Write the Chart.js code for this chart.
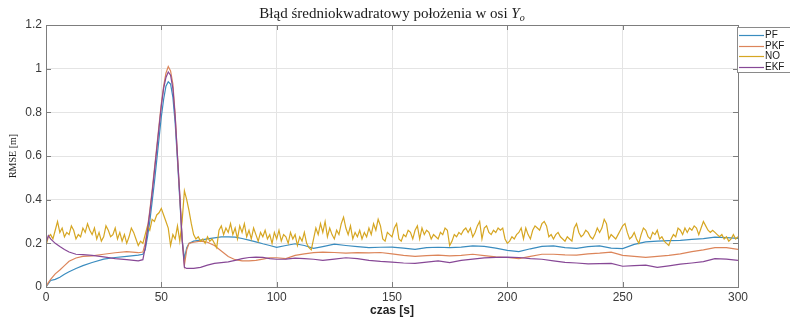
<!DOCTYPE html>
<html>
<head>
<meta charset="utf-8">
<script src="https://cdn.jsdelivr.net/npm/chart.js@4.4.1/dist/chart.umd.min.js"></script>
<style>
html,body{margin:0;padding:0;background:#fff;overflow:hidden}
#wrap{width:790px;height:321px}
</style>
</head>
<body>
<div id="wrap"><canvas id="rmseChart" width="790" height="321"></canvas></div>
<script>
// title pieces (Y is italic, o is a subscript)
const titleText = "Błąd średniokwadratowy położenia w osi ";
const titleVar = "Y";
const titleSub = "o";
const xTitle = "czas [s]";
const yTitle = "RMSE [m]";

const seriesNames = ["PF", "PKF", "NO", "EKF"];
const seriesColors = ["#3a8cbf", "#dc855a", "#d6a622", "#874896"];

// time samples for the smooth filter curves
const tSmooth = [0,1,2,4,6,8,10,13,16,20,25,30,35,40,42,43,44,45,46,47,48,49,50,51,52,53,54,55,56,57,58,59,60,61,62,64,67,70,73,76,79,82,85,88,91,94,97,100,104,108,112,116,120,125,130,135,140,145,150,155,160,165,170,175,180,185,190,195,200,205,210,215,220,225,230,235,240,245,250,255,260,265,270,275,280,285,290,295,300];

const pfValues = [0.0,0.015,0.03,0.035,0.045,0.058,0.07,0.085,0.098,0.112,0.128,0.135,0.14,0.146,0.15,0.17,0.23,0.30,0.39,0.48,0.58,0.68,0.78,0.86,0.92,0.94,0.93,0.87,0.75,0.58,0.40,0.22,0.13,0.18,0.20,0.21,0.215,0.22,0.225,0.23,0.23,0.228,0.222,0.215,0.207,0.198,0.19,0.182,0.19,0.198,0.19,0.177,0.185,0.196,0.19,0.185,0.18,0.182,0.183,0.178,0.172,0.18,0.182,0.18,0.183,0.188,0.186,0.178,0.168,0.162,0.175,0.186,0.188,0.18,0.177,0.185,0.188,0.178,0.176,0.195,0.207,0.21,0.212,0.214,0.218,0.222,0.228,0.226,0.223];

const pkfValues = [0.0,0.02,0.035,0.06,0.078,0.098,0.118,0.133,0.14,0.143,0.15,0.157,0.162,0.157,0.16,0.2,0.27,0.35,0.44,0.54,0.64,0.74,0.84,0.92,0.98,1.01,0.99,0.93,0.79,0.60,0.42,0.22,0.10,0.17,0.20,0.205,0.21,0.205,0.19,0.165,0.14,0.125,0.12,0.12,0.122,0.128,0.134,0.134,0.13,0.145,0.152,0.157,0.16,0.158,0.155,0.157,0.156,0.158,0.152,0.145,0.14,0.144,0.146,0.143,0.145,0.15,0.144,0.138,0.135,0.13,0.14,0.15,0.15,0.147,0.146,0.152,0.155,0.16,0.145,0.14,0.136,0.14,0.145,0.152,0.162,0.17,0.18,0.18,0.172];

const ekfValues = [0.2,0.235,0.22,0.2,0.185,0.172,0.16,0.15,0.148,0.145,0.138,0.13,0.125,0.12,0.125,0.18,0.26,0.34,0.43,0.53,0.63,0.73,0.83,0.91,0.96,0.985,0.97,0.91,0.78,0.60,0.42,0.22,0.09,0.085,0.085,0.085,0.09,0.1,0.108,0.112,0.115,0.122,0.13,0.135,0.137,0.136,0.13,0.127,0.128,0.132,0.13,0.127,0.122,0.128,0.134,0.13,0.122,0.117,0.114,0.11,0.108,0.114,0.12,0.112,0.122,0.128,0.133,0.136,0.137,0.135,0.13,0.127,0.12,0.113,0.11,0.106,0.107,0.108,0.095,0.098,0.1,0.09,0.097,0.105,0.11,0.116,0.13,0.128,0.122];

// NO (no filter) sampled every 1 s, t = 0..300
const noValues = [
0.19,0.23,0.24,0.22,0.26,0.30,0.25,0.27,0.23,0.25,
0.24,0.28,0.26,0.22,0.24,0.23,0.27,0.25,0.29,0.26,
0.24,0.27,0.22,0.25,0.21,0.23,0.28,0.26,0.23,0.24,
0.27,0.22,0.25,0.21,0.24,0.20,0.23,0.27,0.25,0.22,
0.19,0.21,0.20,0.24,0.28,0.26,0.31,0.30,0.33,0.34,
0.36,0.33,0.30,0.27,0.19,0.24,0.22,0.28,0.21,0.30,
0.44,0.40,0.35,0.29,0.24,0.22,0.23,0.21,0.22,0.20,
0.23,0.21,0.22,0.20,0.18,0.26,0.28,0.24,0.27,0.25,
0.29,0.24,0.27,0.22,0.28,0.25,0.29,0.23,0.26,0.22,
0.27,0.24,0.21,0.25,0.23,0.26,0.22,0.24,0.20,0.25,
0.22,0.26,0.21,0.24,0.23,0.20,0.25,0.22,0.24,0.19,
0.23,0.21,0.25,0.20,0.18,0.17,0.22,0.27,0.24,0.29,
0.25,0.30,0.23,0.27,0.24,0.22,0.26,0.24,0.29,0.32,
0.27,0.24,0.28,0.22,0.25,0.23,0.26,0.22,0.25,0.23,
0.27,0.24,0.29,0.26,0.31,0.28,0.22,0.21,0.25,0.24,
0.23,0.27,0.29,0.22,0.21,0.24,0.23,0.26,0.25,0.22,
0.26,0.28,0.22,0.27,0.24,0.26,0.25,0.22,0.24,0.23,
0.22,0.25,0.24,0.27,0.26,0.19,0.21,0.24,0.23,0.25,
0.24,0.26,0.27,0.25,0.27,0.23,0.25,0.28,0.30,0.22,
0.27,0.28,0.25,0.24,0.26,0.25,0.27,0.26,0.27,0.22,
0.20,0.21,0.23,0.22,0.24,0.25,0.27,0.22,0.27,0.24,
0.22,0.26,0.28,0.27,0.26,0.29,0.30,0.28,0.23,0.24,
0.22,0.24,0.25,0.23,0.22,0.21,0.23,0.22,0.21,0.27,
0.29,0.25,0.23,0.24,0.26,0.25,0.23,0.22,0.24,0.27,
0.25,0.27,0.31,0.29,0.22,0.24,0.23,0.22,0.24,0.26,
0.28,0.29,0.25,0.22,0.23,0.25,0.22,0.20,0.24,0.27,
0.26,0.23,0.22,0.25,0.24,0.26,0.22,0.23,0.21,0.20,
0.19,0.22,0.24,0.23,0.27,0.26,0.24,0.27,0.25,0.27,
0.26,0.28,0.27,0.24,0.27,0.30,0.28,0.26,0.25,0.26,
0.25,0.24,0.23,0.24,0.22,0.23,0.21,0.22,0.24,0.22,
0.23
];
const noTime = noValues.map((v, i) => i);

function toPoints(ts, vs){
  return vs.map((v, i) => ({x: ts[i], y: v}));
}

const boxColor = "#7d7d7d";

// matlab-like box, inward ticks, title and legend
const matlabFrame = {
  id: "matlabFrame",
  afterDraw(chart){
    const ctx = chart.ctx;
    const a = chart.chartArea;
    const xs = chart.scales.x, ys = chart.scales.y;
    ctx.save();
    ctx.strokeStyle = boxColor;
    ctx.lineWidth = 1;
    ctx.strokeRect(Math.round(a.left) + 0.5, Math.round(a.top) + 0.5, Math.round(a.right - a.left), Math.round(a.bottom - a.top));
    ctx.beginPath();
    xs.ticks.forEach(t => {
      const px = Math.round(xs.getPixelForValue(t.value)) + 0.5;
      ctx.moveTo(px, a.bottom); ctx.lineTo(px, a.bottom - 5);
      ctx.moveTo(px, a.top); ctx.lineTo(px, a.top + 5);
    });
    ys.ticks.forEach(t => {
      const py = Math.round(ys.getPixelForValue(t.value)) + 0.5;
      ctx.moveTo(a.left, py); ctx.lineTo(a.left + 5, py);
      ctx.moveTo(a.right, py); ctx.lineTo(a.right - 5, py);
    });
    ctx.stroke();

    // title
    const mainFont = '15px "Liberation Serif"';
    const varFont = 'italic 15px "Liberation Serif"';
    const subFont = 'italic 10px "Liberation Serif"';
    ctx.font = mainFont; const w1 = ctx.measureText(titleText).width;
    ctx.font = varFont; const w2 = ctx.measureText(titleVar).width;
    ctx.font = subFont; const w3 = ctx.measureText(titleSub).width;
    let x0 = (a.left + a.right) / 2 - (w1 + w2 + w3) / 2;
    const base = 18;
    ctx.fillStyle = "#1a1a1a";
    ctx.textBaseline = "alphabetic";
    ctx.textAlign = "left";
    ctx.font = mainFont; ctx.fillText(titleText, x0, base);
    ctx.font = varFont; ctx.fillText(titleVar, x0 + w1, base);
    ctx.font = subFont; ctx.fillText(titleSub, x0 + w1 + w2, base + 3);

    // legend
    const lx = 737, ly = 27, lh = 45;
    ctx.fillStyle = "#fff";
    ctx.fillRect(lx, ly, 60, lh);
    ctx.strokeStyle = "#8a8a8a";
    ctx.strokeRect(lx + 0.5, ly + 0.5, 60, lh);
    ctx.font = '10px "Liberation Sans"';
    ctx.textBaseline = "middle";
    seriesNames.forEach((name, i) => {
      const y = Math.round(ly + 8 + i * 10.5) + 0.5;
      ctx.strokeStyle = seriesColors[i];
      ctx.lineWidth = 1.2;
      ctx.beginPath();
      ctx.moveTo(lx + 2, y);
      ctx.lineTo(lx + 27, y);
      ctx.stroke();
      ctx.fillStyle = "#1a1a1a";
      ctx.fillText(name, lx + 28, y);
    });
    ctx.restore();
  }
};

const datasets = [
  {label: seriesNames[0], data: toPoints(tSmooth, pfValues), borderColor: seriesColors[0], order: 3},
  {label: seriesNames[1], data: toPoints(tSmooth, pkfValues), borderColor: seriesColors[1], order: 2},
  {label: seriesNames[2], data: toPoints(noTime, noValues), borderColor: seriesColors[2], order: 1},
  {label: seriesNames[3], data: toPoints(tSmooth, ekfValues), borderColor: seriesColors[3], order: 0}
].map(d => Object.assign(d, {borderWidth: 1.2, pointRadius: 0, fill: false, tension: 0}));

new Chart(document.getElementById("rmseChart"), {
  type: "line",
  data: {datasets: datasets},
  options: {
    responsive: false,
    animation: false,
    devicePixelRatio: 1,
    layout: {padding: {top: 25, right: 52, left: 0, bottom: 0}},
    plugins: {legend: {display: false}, tooltip: {enabled: false}, title: {display: false}},
    scales: {
      x: {
        type: "linear", min: 0, max: 300,
        ticks: {stepSize: 50, padding: 3, color: "#3a3a3a", font: {family: "Liberation Sans", size: 12}, maxRotation: 0},
        grid: {color: "#e4e4e4", drawTicks: false},
        border: {display: false},
        title: {display: true, text: xTitle, color: "#222", font: {family: "Liberation Sans", size: 12, weight: "bold"}, padding: {top: 0, bottom: 3}},
        afterFit(s){ s.height = 34; }
      },
      y: {
        min: 0, max: 1.2,
        ticks: {stepSize: 0.2, padding: 4, color: "#3a3a3a", font: {family: "Liberation Sans", size: 12},
          callback: v => String(Number(v.toFixed(2)))},
        grid: {color: "#e4e4e4", drawTicks: false},
        border: {display: false},
        title: {display: true, text: yTitle, color: "#222", font: {family: "Liberation Serif", size: 10}, padding: {top: 7, bottom: 0}},
        afterFit(s){ s.width = 46; }
      }
    }
  },
  plugins: [matlabFrame]
});
</script>
</body>
</html>
